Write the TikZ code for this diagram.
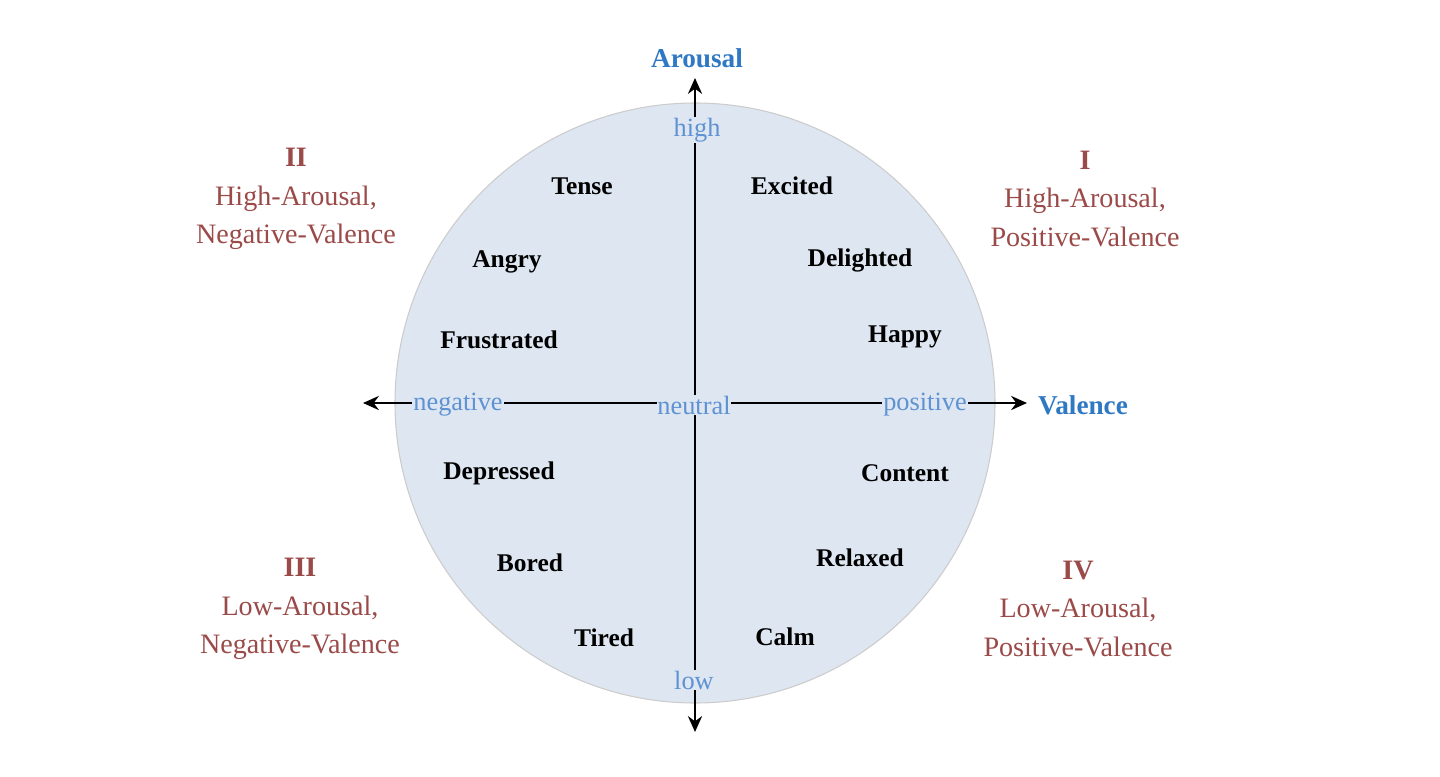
\documentclass[tikz,border=0pt]{standalone}
\usepackage{fontspec}
\setmainfont{Liberation Serif}
\usetikzlibrary{arrows.meta}
\definecolor{circ}{HTML}{DDE6F1}
\definecolor{axblue}{HTML}{2F78C4}
\definecolor{lblue}{HTML}{5E92D2}
\definecolor{qred}{HTML}{9A4A48}
\begin{document}
\begin{tikzpicture}[x=0.02cm,y=-0.02cm,
  emo/.style={font=\fontsize{14.5}{16}\selectfont\bfseries,text=black},
  ax/.style={font=\fontsize{15}{17}\selectfont,text=lblue,fill=circ,inner sep=0.5pt},
  quad/.style={font=\fontsize{16}{22}\selectfont,text=qred,align=center},
  arr/.style={line width=1.4pt,-{Stealth[length=9pt,width=8pt]}}]
\useasboundingbox (0,0) rectangle (1440,777);
\filldraw[fill=circ,draw=gray!40,line width=0.6pt] (695,403) circle[radius=300];
\coordinate (c) at (695,403);
\coordinate (top) at (695,78);
\coordinate (bot) at (695,732);
\coordinate (lft) at (363,403);
\coordinate (rgt) at (1027,403);
\draw[arr] (c) -- (top);
\draw[arr] (c) -- (bot);
\draw[arr] (c) -- (lft);
\draw[arr] (c) -- (rgt);
\node[font=\fontsize{15.5}{17}\selectfont\bfseries,text=axblue] (ar) at (697,58) {Arousal};
\node[font=\fontsize{15.5}{17}\selectfont\bfseries,text=axblue] (va) at (1083,405) {Valence};
\node[ax] (hi) at (697,130) {high};
\node[ax] (lo) at (694,680) {low};
\node[ax] (ng) at (458,405) {negative};
\node[ax] (nt) at (694,405) {neutral};
\node[ax] (ps) at (925,405) {positive};
\node[emo] (e1) at (582,186) {Tense};
\node[emo] (e2) at (792,186) {Excited};
\node[emo] (e3) at (507,262) {Angry};
\node[emo] (e4) at (860,260) {Delighted};
\node[emo] (e5) at (499,340) {Frustrated};
\node[emo] (e6) at (905,337) {Happy};
\node[emo] (e7) at (499,473) {Depressed};
\node[emo] (e8) at (905,473) {Content};
\node[emo] (e9) at (530,563) {Bored};
\node[emo] (e10) at (860,558) {Relaxed};
\node[emo] (e11) at (604,638) {Tired};
\node[emo] (e12) at (785,637) {Calm};
\node[quad] (q2) at (296,199) {\textbf{II}\\High-Arousal,\\Negative-Valence};
\node[quad] (q1) at (1085,199) {\textbf{I}\\High-Arousal,\\Positive-Valence};
\node[quad] (q3) at (300,609) {\textbf{III}\\Low-Arousal,\\Negative-Valence};
\node[quad] (q4) at (1078,609) {\textbf{IV}\\Low-Arousal,\\Positive-Valence};
\end{tikzpicture}
\end{document}
